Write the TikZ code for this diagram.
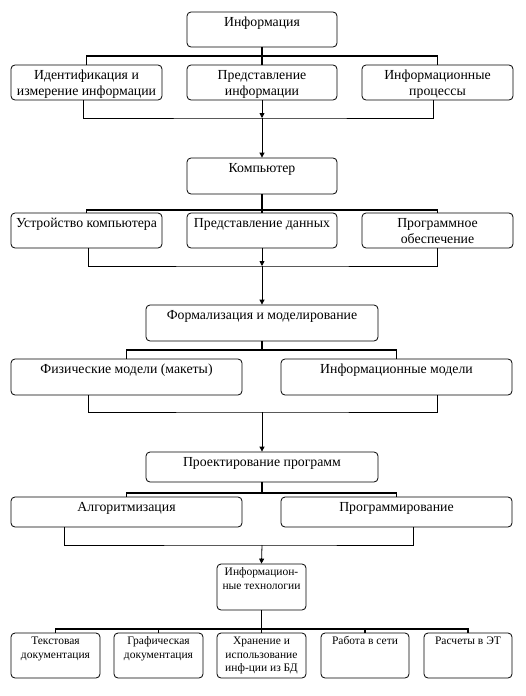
\documentclass[tikz,border=0pt]{standalone}
\usepackage{fontspec}
\setmainfont{Liberation Serif}
\usetikzlibrary{arrows.meta,calc}
\begin{document}
\begin{tikzpicture}[x=1pt,y=-1pt,
  box/.style={draw, rounded corners=4pt, line width=0.8pt, inner sep=0pt},
  txt/.style={anchor=north, align=center, inner sep=0pt, font=\fontsize{13.8}{15.5}\selectfont},
  stxt/.style={anchor=north, align=center, inner sep=0pt, font=\fontsize{11.5}{13.5}\selectfont},
  bus/.style={line width=1.8pt},
  coll/.style={line width=0.8pt},
  arr/.style={-{Triangle[length=5pt,width=5pt]}}]
\useasboundingbox (0,0) rectangle (525,696);

% ---- boxes ----
\node[box, minimum width=150pt, minimum height=35pt] (info) at (262,29.5) {};
\node[box, minimum width=151pt, minimum height=35pt] (r2a) at (86.5,82.5) {};
\node[box, minimum width=150pt, minimum height=35pt] (r2b) at (262,82.5) {};
\node[box, minimum width=151pt, minimum height=35pt] (r2c) at (437.5,82.5) {};

\node[box, minimum width=150pt, minimum height=36pt] (comp) at (262,176) {};
\node[box, minimum width=151pt, minimum height=35pt] (r3a) at (86.5,230.5) {};
\node[box, minimum width=150pt, minimum height=35pt] (r3b) at (262,230.5) {};
\node[box, minimum width=151pt, minimum height=35pt] (r3c) at (437.5,230.5) {};

\node[box, minimum width=232pt, minimum height=36pt] (form) at (262,323) {};
\node[box, minimum width=231pt, minimum height=36pt] (r4a) at (126.5,377) {};
\node[box, minimum width=231pt, minimum height=36pt] (r4b) at (396.5,377) {};

\node[box, minimum width=232pt, minimum height=30pt] (proj) at (262,467) {};
\node[box, minimum width=231pt, minimum height=30pt] (r5a) at (126.5,512) {};
\node[box, minimum width=231pt, minimum height=30pt] (r5b) at (396.5,512) {};

\node[box, minimum width=89pt, minimum height=46pt] (it) at (261.5,587) {};
\node[box, minimum width=89pt, minimum height=45pt] (r6a) at (55.5,655.5) {};
\node[box, minimum width=89pt, minimum height=45pt] (r6b) at (158.5,655.5) {};
\node[box, minimum width=89pt, minimum height=45pt] (r6c) at (261.5,655.5) {};
\node[box, minimum width=88pt, minimum height=45pt] (r6d) at (365,655.5) {};
\node[box, minimum width=88pt, minimum height=45pt] (r6e) at (468,655.5) {};

% ---- texts ----
\node[txt] (info-t) at ($(info.north)+(0,4)$) {\strut Информация};
\node[txt] (r2a-t) at ($(r2a.north)+(0,4)$) {\strut Идентификация и\\измерение информации};
\node[txt] (r2b-t) at ($(r2b.north)+(0,4)$) {\strut Представление\\информации};
\node[txt] (r2c-t) at ($(r2c.north)+(0,4)$) {\strut Информационные\\процессы};

\node[txt] (comp-t) at ($(comp.north)+(0,4)$) {\strut Компьютер};
\node[txt] (r3a-t) at ($(r3a.north)+(0,4)$) {\strut Устройство компьютера};
\node[txt] (r3b-t) at ($(r3b.north)+(0,4)$) {\strut Представление данных};
\node[txt] (r3c-t) at ($(r3c.north)+(0,4)$) {\strut Программное\\обеспечение};

\node[txt] (form-t) at ($(form.north)+(0,4)$) {\strut Формализация и моделирование};
\node[txt] (r4a-t) at ($(r4a.north)+(0,4)$) {\strut Физические модели (макеты)};
\node[txt] (r4b-t) at ($(r4b.north)+(0,4)$) {\strut Информационные модели};

\node[txt] (proj-t) at ($(proj.north)+(0,4)$) {\strut Проектирование программ};
\node[txt] (r5a-t) at ($(r5a.north)+(0,4)$) {\strut Алгоритмизация};
\node[txt] (r5b-t) at ($(r5b.north)+(0,4)$) {\strut Программирование};

\node[stxt] (it-t) at ($(it.north)+(0,2.5)$) {\strut Информацион-\\ные технологии};
\node[stxt] (r6a-t) at ($(r6a.north)+(0,2.5)$) {\strut Текстовая\\документация};
\node[stxt] (r6b-t) at ($(r6b.north)+(0,2.5)$) {\strut Графическая\\документация};
\node[stxt] (r6c-t) at ($(r6c.north)+(0,2.5)$) {\strut Хранение и\\использование\\инф-ции из БД};
\node[stxt] (r6d-t) at ($(r6d.north)+(0,2.5)$) {\strut Работа в сети};
\node[stxt] (r6e-t) at ($(r6e.north)+(0,2.5)$) {\strut Расчеты в ЭТ};

% ---- bus coordinates ----
\coordinate (b1) at (262,56);
\coordinate (b2) at (262,210);
\coordinate (b3) at (262,350);
\coordinate (b4) at (262,493);
\coordinate (b5) at (261.5,629);
% ---- collector coordinates ----
\coordinate (c1) at (262,118);
\coordinate (c2) at (262,266);
\coordinate (c3) at (262,412);
\coordinate (c4) at (262,545);

% ---- level 1 ----
\draw[bus] (info.south) -- (b1);
\draw[bus] (r2a.north) -- (r2a.north |- b1) -- (r2c.north |- b1) -- (r2c.north);
\draw[bus] (b1) -- (r2b.north);
\draw[coll] ([xshift=-3.5pt]r2a.south) |- (c1) -| ([xshift=-4.5pt]r2c.south);
\draw[coll,arr] (r2b.south) -- (c1);
\draw[coll,arr] (c1) -- (comp.north);

% ---- level 2 ----
\draw[bus] (comp.south) -- (b2);
\draw[bus] (r3a.north) -- (r3a.north |- b2) -- (r3c.north |- b2) -- (r3c.north);
\draw[bus] (b2) -- (r3b.north);
\draw[coll] ([xshift=1.5pt]r3a.south) |- (c2) -| ([xshift=-0.5pt]r3c.south);
\draw[coll,arr] (r3b.south) -- (c2);
\draw[coll,arr] (c2) -- (form.north);

% ---- level 3 ----
\draw[bus] (form.south) -- (b3);
\draw[bus] (r4a.north) -- (r4a.north |- b3) -- (r4b.north |- b3) -- (r4b.north);
\draw[coll] ([xshift=-38.5pt]r4a.south) |- (c3) -| ([xshift=40.5pt]r4b.south);
\draw[coll,arr] (c3) -- (proj.north);

% ---- level 4 ----
\draw[bus] (proj.south) -- (b4);
\draw[bus] (r5a.north) -- (r5a.north |- b4) -- (r5b.north |- b4) -- (r5b.north);
\draw[coll] ([xshift=-62.5pt]r5a.south) |- (c4) -| ([xshift=16.5pt]r5b.south);
\draw[coll,arr] (c4) -- (it.north);

% ---- level 5 ----
\draw[bus] (it.south) -- (b5);
\draw[bus] (r6a.north) -- (r6a.north |- b5) -- (r6e.north |- b5) -- (r6e.north);
\draw[bus] (r6b.north) -- (r6b.north |- b5);
\draw[bus] (b5) -- (r6c.north);
\draw[bus] (r6d.north) -- (r6d.north |- b5);
\end{tikzpicture}
\end{document}
